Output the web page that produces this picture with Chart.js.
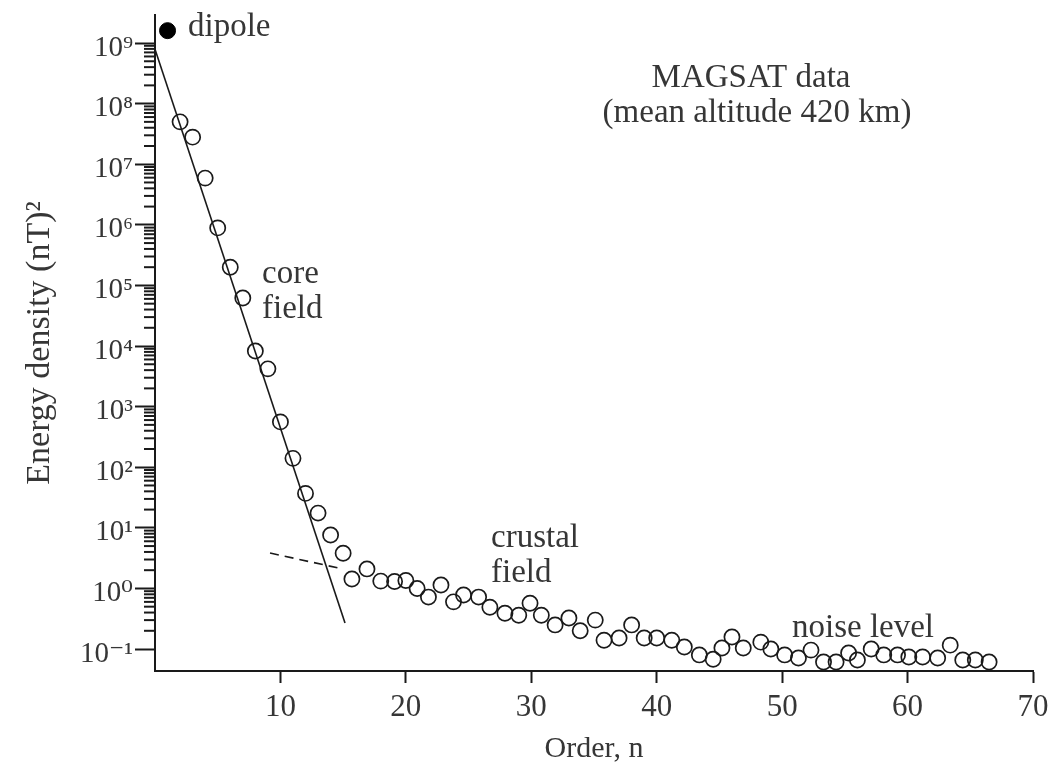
<!DOCTYPE html>
<html>
<head>
<meta charset="utf-8">
<script src="https://cdn.jsdelivr.net/npm/chart.js@4/dist/chart.umd.min.js"></script>
<style>
  html, body { margin: 0; padding: 0; background: #ffffff; }
  #wrap { width: 1048px; height: 769px; }
</style>
</head>
<body>
<div id="wrap"><canvas id="c" width="1048" height="769"></canvas></div>
<script>
// ---- data ----
const dipoleOrder = [1];
const dipoleEnergy = [1.6e9];

const coreOrders = [2, 3, 4, 5, 6, 7, 8, 9, 10, 11, 12, 13, 14, 15];
const coreEnergy = [5e7, 2.8e7, 5.9e6, 8.9e5, 2e5, 6.2e4, 8.3e3, 4.2e3, 560, 140, 37, 17.5, 7.6, 3.8];

const crustOrders = [15.7, 16.9, 18, 19.1, 20, 20.9, 21.8, 22.8, 23.8, 24.6, 25.8, 26.7, 27.9, 29, 29.9,
  30.8, 31.9, 33, 33.9, 35.1, 35.8, 37, 38, 39, 40, 41.2, 42.2, 43.4, 44.5, 45.2, 46, 46.9, 48.3, 49.1,
  50.2, 51.3, 52.3, 53.3, 54.3, 55.3, 56, 57.1, 58.1, 59.2, 60.1, 61.2, 62.4, 63.4, 64.4, 65.4, 66.5];
const crustEnergy = [1.43, 2.1, 1.32, 1.3, 1.35, 1.0, 0.72, 1.14, 0.6, 0.78, 0.72, 0.49, 0.39, 0.36, 0.57,
  0.36, 0.25, 0.325, 0.2, 0.30, 0.14, 0.152, 0.25, 0.152, 0.152, 0.14, 0.108, 0.08, 0.068, 0.104, 0.158, 0.104, 0.13, 0.1,
  0.08, 0.071, 0.096, 0.061, 0.061, 0.086, 0.066, 0.1, 0.08, 0.08, 0.074, 0.074, 0.071, 0.116, 0.066, 0.066, 0.061];

// fitted trend lines (end points)
const coreFitOrders = [0, 15.15];
const coreFitEnergy = [7.9e8, 0.27];
const crustFitOrders = [9.17, 15.0];
const crustFitEnergy = [3.84, 2.09];

// axes
const xTickValues = [10, 20, 30, 40, 50, 60, 70];
const yTickExponents = [-1, 0, 1, 2, 3, 4, 5, 6, 7, 8, 9];
const xRange = [0, 70];
const yRange = [0.0434, 2.9e9];

const labels = {
  dipole: 'dipole',
  title1: 'MAGSAT data',
  title2: '(mean altitude 420 km)',
  core: ['core', 'field'],
  crust: ['crustal', 'field'],
  noise: 'noise level',
  xTitle: 'Order, n',
  yTitle: 'Energy density (nT)\u00B2'
};

// ---- helpers ----
const SUP = {'-':'\u207B','0':'\u2070','1':'\u00B9','2':'\u00B2','3':'\u00B3','4':'\u2074','5':'\u2075','6':'\u2076','7':'\u2077','8':'\u2078','9':'\u2079'};
const sup = s => String(s).split('').map(c => SUP[c]).join('');
const pts = (xs, ys) => xs.map((x, i) => ({x: x, y: ys[i]}));

const SERIF = '"Liberation Serif", "DejaVu Serif", serif';
const TEXT = '#363636';
const INK = '#1a1a1a';

const extras = {
  id: 'extras',
  afterDraw(chart) {
    const ctx = chart.ctx;
    const ys = chart.scales.y;
    ctx.save();
    // minor log ticks
    ctx.strokeStyle = INK;
    ctx.lineWidth = 2;
    for (let e = yTickExponents[0]; e < yTickExponents[yTickExponents.length - 1]; e++) {
      for (let m = 2; m <= 9; m++) {
        const py = ys.getPixelForValue(m * Math.pow(10, e));
        ctx.beginPath();
        ctx.moveTo(ys.right - 11, py);
        ctx.lineTo(ys.right, py);
        ctx.stroke();
      }
    }
    // annotations
    ctx.fillStyle = TEXT;
    ctx.font = '33px ' + SERIF;
    ctx.textBaseline = 'alphabetic';
    ctx.textAlign = 'left';
    ctx.fillText(labels.dipole, 188, 36);
    ctx.fillText(labels.core[0], 262, 283);
    ctx.fillText(labels.core[1], 262, 318);
    ctx.fillText(labels.crust[0], 491, 547);
    ctx.fillText(labels.crust[1], 491, 582);
    ctx.fillText(labels.noise, 792, 637);
    ctx.textAlign = 'center';
    ctx.fillText(labels.title1, 751, 87);
    ctx.fillText(labels.title2, 757, 122);
    ctx.restore();
  }
};

new Chart(document.getElementById('c'), {
  type: 'scatter',
  data: {
    datasets: [
      {
        label: 'core fit',
        type: 'line',
        data: pts(coreFitOrders, coreFitEnergy),
        borderColor: INK, borderWidth: 1.6, pointRadius: 0, fill: false, tension: 0
      },
      {
        label: 'crustal fit',
        type: 'line',
        data: pts(crustFitOrders, crustFitEnergy),
        borderColor: INK, borderWidth: 1.6, borderDash: [9, 6], pointRadius: 0, fill: false, tension: 0
      },
      {
        label: 'dipole',
        data: pts(dipoleOrder, dipoleEnergy),
        pointRadius: 8, pointBackgroundColor: '#000', pointBorderColor: '#000', pointBorderWidth: 1
      },
      {
        label: 'core',
        data: pts(coreOrders, coreEnergy),
        pointRadius: 7.6, pointBackgroundColor: 'rgba(0,0,0,0)', pointBorderColor: INK, pointBorderWidth: 1.7
      },
      {
        label: 'crust',
        data: pts(crustOrders, crustEnergy),
        pointRadius: 7.6, pointBackgroundColor: 'rgba(0,0,0,0)', pointBorderColor: INK, pointBorderWidth: 1.7
      }
    ]
  },
  options: {
    responsive: false,
    animation: false,
    devicePixelRatio: 1,
    layout: { padding: { top: 15, right: 15, left: 0, bottom: 0 } },
    plugins: { legend: { display: false }, tooltip: { enabled: false } },
    scales: {
      x: {
        type: 'linear',
        min: xRange[0], max: xRange[1],
        afterBuildTicks: s => { s.ticks = xTickValues.map(v => ({value: v})); },
        afterFit: s => { s.height = 98; s.paddingLeft = 0; s.paddingRight = 0; },
        ticks: { color: TEXT, font: { family: SERIF, size: 31 }, padding: 6, maxRotation: 0 },
        grid: { drawOnChartArea: false, drawTicks: true, tickLength: 12, tickColor: INK, tickWidth: 2 },
        border: { display: true, color: INK, width: 2 },
        title: { display: true, text: labels.xTitle, color: TEXT, font: { family: SERIF, size: 30 }, padding: { top: 0, bottom: 2 } }
      },
      y: {
        type: 'logarithmic',
        min: yRange[0], max: yRange[1],
        afterBuildTicks: s => { s.ticks = yTickExponents.map(e => ({value: Math.pow(10, e), major: true})); },
        afterFit: s => { s.width = 155; s.paddingTop = 0; s.paddingBottom = 0; },
        ticks: {
          color: TEXT, font: { family: SERIF, size: 29 }, padding: 2, labelOffset: 5,
          callback: v => '10' + sup(Math.round(Math.log10(v)))
        },
        grid: { drawOnChartArea: false, drawTicks: true, tickLength: 20, tickColor: INK, tickWidth: 2 },
        border: { display: true, color: INK, width: 2 },
        title: { display: true, text: labels.yTitle, color: TEXT, font: { family: SERIF, size: 34 }, padding: { top: 20, bottom: 0 } }
      }
    }
  },
  plugins: [extras]
});
</script>
</body>
</html>
